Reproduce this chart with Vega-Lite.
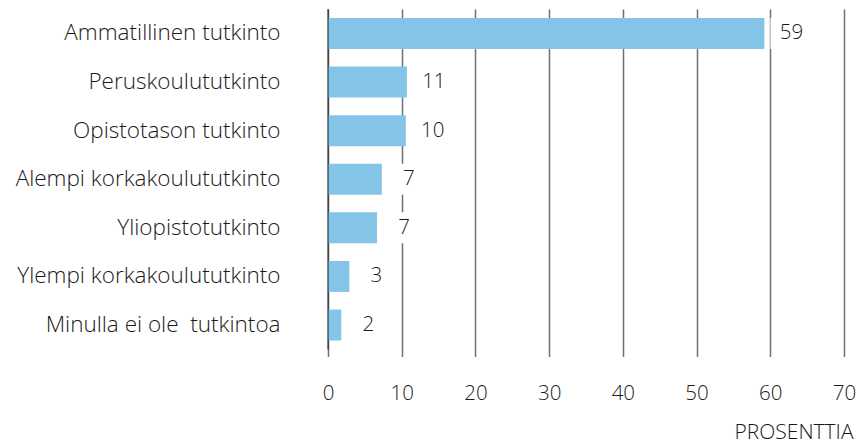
{
  "$schema": "https://vega.github.io/schema/vega-lite/v6.json",
  "width": 516,
  "height": 340.5,
  "autosize": "none",
  "padding": {"left": 328, "top": 9, "right": 16, "bottom": 95.5},
  "background": "white",
  "config": {"view": {"stroke": null}},
  "data": {
    "values": [
      {"kategoria": "Ammatillinen tutkinto", "arvo": 59.2, "nimi": "59"},
      {"kategoria": "Peruskoulututkinto", "arvo": 10.7, "nimi": "11"},
      {"kategoria": "Opistotason tutkinto", "arvo": 10.55, "nimi": "10"},
      {"kategoria": "Alempi korkakoulututkinto", "arvo": 7.3, "nimi": "7"},
      {"kategoria": "Yliopistotutkinto", "arvo": 6.65, "nimi": "7"},
      {"kategoria": "Ylempi korkakoulututkinto", "arvo": 2.9, "nimi": "3"},
      {"kategoria": "Minulla ei ole\u00a0 tutkintoa", "arvo": 1.8, "nimi": "2"}
    ]
  },
  "encoding": {
    "y": {
      "field": "kategoria",
      "type": "nominal",
      "sort": null,
      "scale": {"paddingInner": 0.363, "paddingOuter": 0.185},
      "axis": {
        "title": null,
        "domain": false,
        "ticks": false,
        "labelPadding": 48,
        "labelFont": "Open Sans",
        "labelFontSize": 22.5,
        "labelFontWeight": 300,
        "labelColor": "#1a1a1a",
        "labelLimit": 400
      }
    }
  },
  "layer": [
    {
      "mark": {"type": "bar", "color": "#84C5E7"},
      "encoding": {
        "x": {
          "field": "arvo",
          "type": "quantitative",
          "scale": {"domain": [0, 70], "nice": false},
          "axis": {
            "values": [0, 10, 20, 30, 40, 50, 60, 70],
            "grid": true,
            "gridColor": "black",
            "gridOpacity": 0.56,
            "gridWidth": 1.5,
            "domain": false,
            "ticks": true,
            "tickSize": 7,
            "tickColor": "black",
            "tickOpacity": 0.56,
            "tickWidth": 1.5,
            "labelFlush": false,
            "labelPadding": 27,
            "labelFont": "Open Sans",
            "labelFontSize": 20.5,
            "labelFontWeight": 300,
            "labelColor": "#1a1a1a",
            "title": "PROSENTTIA",
            "titleFont": "Open Sans",
            "titleFontSize": 21,
            "titleFontWeight": 300,
            "titleColor": "#1a1a1a",
            "titleAnchor": "end",
            "titleAlign": "right",
            "titleBaseline": "alphabetic",
            "titleX": 525,
            "titleY": 88.5
          }
        }
      }
    },
    {
      "mark": {"type": "bar", "color": "white", "xOffset": 6, "x2Offset": 46},
      "encoding": {
        "x": {"field": "arvo", "type": "quantitative"},
        "x2": {"field": "arvo"}
      }
    },
    {
      "mark": {"type": "rule", "color": "black", "opacity": 0.56, "strokeWidth": 1.5},
      "data": {"values": [{"nolla": 0}]},
      "encoding": {
        "x": {"field": "nolla", "type": "quantitative"},
        "y": {"value": 0},
        "y2": {"value": 340.5}
      }
    },
    {
      "mark": {"type": "text", "align": "center", "baseline": "middle", "dx": 27, "font": "Open Sans", "fontSize": 20.5, "fontWeight": 300, "color": "#1a1a1a"},
      "encoding": {
        "x": {"field": "arvo", "type": "quantitative"},
        "text": {"field": "nimi"}
      }
    }
  ]
}
